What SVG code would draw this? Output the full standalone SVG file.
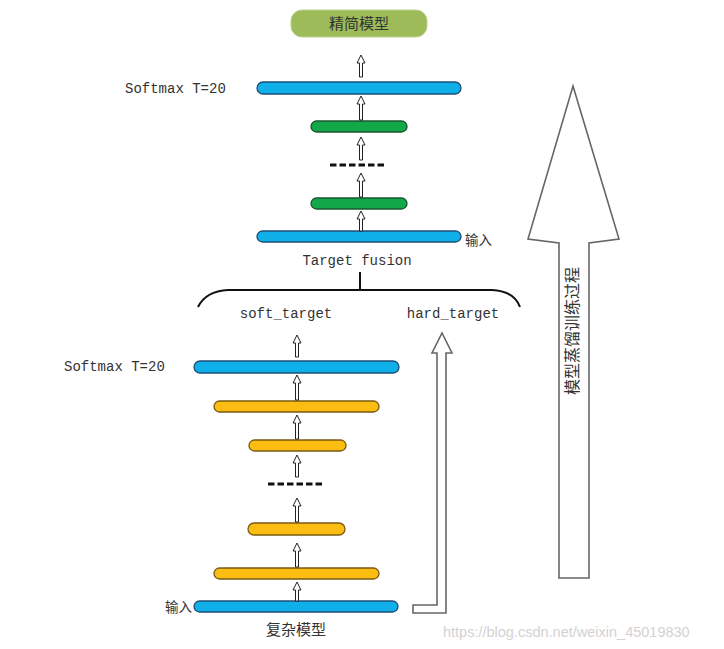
<svg xmlns="http://www.w3.org/2000/svg" width="724" height="649" viewBox="0 0 724 649">
<style>
.bg{fill:#ffffff}
.blue{fill:#0fb0ea;stroke:#1f4f78;stroke-width:1.3}
.green{fill:#12a84a;stroke:#1b5530;stroke-width:1.3}
.yellow{fill:#fcbd12;stroke:#7a5a10;stroke-width:1.3}
.top{fill:#9dbb58;stroke:#b9cf8c;stroke-width:1}
.mono{font-family:"Liberation Mono","DejaVu Sans Mono",monospace;font-size:14px;fill:#333}
.cjk{font-family:"Noto Sans CJK SC","Noto Sans",sans-serif;fill:#333}
.sa{fill:#fff;stroke:#222;stroke-width:1}
.big{fill:#fff;stroke:#666;stroke-width:1.6;stroke-linejoin:miter}
.dash{stroke:#111;stroke-width:3;stroke-dasharray:6.5 3}
.brace{fill:none;stroke:#111;stroke-width:2}
.wm{font-family:"Liberation Sans",Arial,sans-serif;font-size:14.5px;fill:#d2d2d2}
</style>
<rect class="bg" x="0" y="0" width="724" height="649"/>

<g id="student-output">
<rect class="top" x="291" y="10" width="136" height="27" rx="11"/>
<text class="cjk" x="359" y="29" font-size="15" text-anchor="middle">精简模型</text>
</g>

<g id="student-softmax">
<rect class="blue" x="257" y="82" width="204" height="12" rx="6"/>
<text class="mono" x="125" y="93">Softmax T=20</text>
</g>
<g id="student-hidden1"><rect class="green" x="311" y="121" width="96" height="11" rx="5.5"/></g>
<g id="student-ellipsis"><line class="dash" x1="330" y1="165" x2="384" y2="165"/></g>
<g id="student-hidden2"><rect class="green" x="311" y="198" width="96" height="11" rx="5.5"/></g>
<g id="student-input">
<rect class="blue" x="257" y="231" width="204" height="11" rx="5.5"/>
<text class="cjk" x="465" y="245" font-size="13.5">输入</text>
</g>
<g id="target-fusion">
<text class="mono" x="357" y="265" text-anchor="middle">Target fusion</text>
</g>
<g id="soft-target"><text class="mono" x="286" y="318" text-anchor="middle">soft_target</text></g>
<g id="hard-target"><text class="mono" x="453" y="318" text-anchor="middle">hard_target</text></g>

<g id="teacher-softmax">
<rect class="blue" x="194" y="361" width="205" height="12" rx="6"/>
<text class="mono" x="64" y="371">Softmax T=20</text>
</g>
<g id="teacher-hidden1"><rect class="yellow" x="214" y="401" width="165" height="11" rx="5.5"/></g>
<g id="teacher-hidden2"><rect class="yellow" x="249" y="440" width="97" height="11" rx="5.5"/></g>
<g id="teacher-ellipsis"><line class="dash" x1="268" y1="484" x2="322" y2="484"/></g>
<g id="teacher-hidden3"><rect class="yellow" x="248" y="523" width="97" height="12" rx="6"/></g>
<g id="teacher-hidden4"><rect class="yellow" x="214" y="568" width="165" height="11" rx="5.5"/></g>
<g id="teacher-input">
<rect class="blue" x="194" y="601" width="204" height="11" rx="5.5"/>
<text class="cjk" x="192" y="612" font-size="13.5" text-anchor="end">输入</text>
<text class="cjk" x="296" y="635" font-size="15" text-anchor="middle">复杂模型</text>
</g>

<g id="distill-process">
<polygon class="big" points="573,86 619,239 589,243 589,578 559,578 559,243 528,239"/>
<text class="cjk" transform="translate(578,331) rotate(-90)" font-size="16" text-anchor="middle">模型蒸馏训练过程</text>
</g>

<g id="connectors">
<polygon class="sa" points="361,55 365,63 362.5,63 362.5,77 359.5,77 359.5,63 357,63"/>
<polygon class="sa" points="361,96 365,104 362.5,104 362.5,120 359.5,120 359.5,104 357,104"/>
<polygon class="sa" points="361,137 365,145 362.5,145 362.5,160 359.5,160 359.5,145 357,145"/>
<polygon class="sa" points="361,173 365,181 362.5,181 362.5,197 359.5,197 359.5,181 357,181"/>
<polygon class="sa" points="361,211 365,219 362.5,219 362.5,231 359.5,231 359.5,219 357,219"/>
<line x1="360" y1="272" x2="360" y2="290" stroke="#111" stroke-width="2"/>
<path class="brace" d="M198,307 Q206,291 228,290 L492,290 Q514,291 520,307"/>
<polygon class="sa" points="297,335 301,343 298.5,343 298.5,357 295.5,357 295.5,343 293,343"/>
<polygon class="sa" points="297,375 301,383 298.5,383 298.5,400 295.5,400 295.5,383 293,383"/>
<polygon class="sa" points="297,415 301,423 298.5,423 298.5,439 295.5,439 295.5,423 293,423"/>
<polygon class="sa" points="297,455 301,463 298.5,463 298.5,477 295.5,477 295.5,463 293,463"/>
<polygon class="sa" points="297,498 301,506 298.5,506 298.5,522 295.5,522 295.5,506 293,506"/>
<polygon class="sa" points="297,543 301,551 298.5,551 298.5,567 295.5,567 295.5,551 293,551"/>
<polygon class="sa" points="297,582 301,590 298.5,590 298.5,601 295.5,601 295.5,590 293,590"/>
<polygon class="big" points="413,605 437,605 437,353 432,353 442,333 452,353 446,353 446,613 413,613"/>
</g>

<text class="wm" x="443" y="637">https://blog.csdn.net/weixin_45019830</text>
</svg>
